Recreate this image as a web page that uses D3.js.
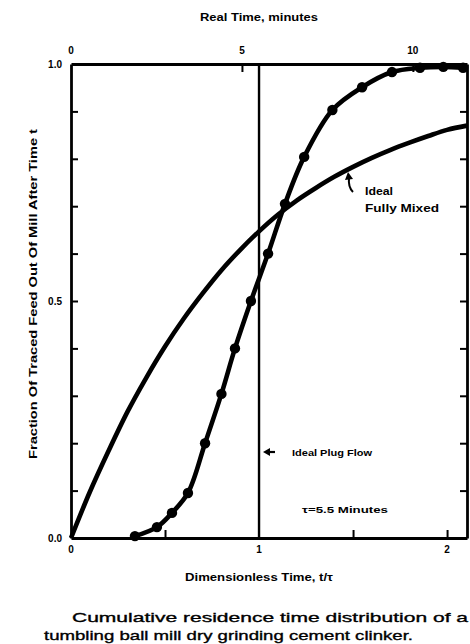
<!DOCTYPE html>
<html><head><meta charset="utf-8">
<script src="https://cdn.jsdelivr.net/npm/d3@7"></script>
<style>
html,body{margin:0;padding:0;background:#fff;}
svg{display:block;}
text{font-family:"Liberation Sans",Arial,Helvetica,sans-serif;fill:#000;}
</style></head>
<body>
<svg id="chart" width="470" height="644"></svg>
<script>
// Measured cumulative RTD (dimensionless time t/tau, fraction out)
const measuredTheta = [0.34, 0.457, 0.537, 0.622, 0.713, 0.80, 0.872, 0.957, 1.048, 1.138, 1.24, 1.39, 1.548, 1.707, 1.856, 1.98, 2.085];
const measuredF     = [0.004, 0.023, 0.053, 0.095, 0.20, 0.304, 0.40, 0.50, 0.60, 0.705, 0.804, 0.903, 0.951, 0.983, 0.992, 0.994, 0.992];
// Ideal fully mixed curve
const mixedTheta = [0, 0.1, 0.2, 0.3, 0.4, 0.5, 0.6, 0.7, 0.8, 0.9, 1.0, 1.1, 1.2, 1.3, 1.4, 1.5, 1.6, 1.7, 1.8, 1.9, 2.0, 2.106];
const mixedF     = [0, 0.097, 0.184, 0.266, 0.338, 0.404, 0.463, 0.516, 0.565, 0.608, 0.647, 0.682, 0.712, 0.738, 0.762, 0.783, 0.802, 0.819, 0.834, 0.848, 0.861, 0.870];
// Ideal plug flow position
const plugTheta = 1;
// Tick labels
const bottomTicks = [0, 1, 2];
const bottomMinorTicks = [0.5, 1.5, 2];
const topTicks = [0, 5, 10];
const leftLabelTicks = [0, 0.5, 1.0];
const yMinorTicks = [0.1, 0.2, 0.3, 0.4, 0.5, 0.6, 0.7, 0.8, 0.9];
const tauMinutes = 5.5;
const xMax = 2.106;

const svg = d3.select("#chart");
const L = 71, R = 467, T = 64, B = 538;
const x = d3.scaleLinear().domain([0, xMax]).range([L, R]);
const xTop = d3.scaleLinear().domain([0, xMax * tauMinutes]).range([L, R]);
const y = d3.scaleLinear().domain([0, 1]).range([B, T]);

// Axes with inward ticks
const gB = svg.append("g").attr("transform", `translate(0,${B})`)
  .call(d3.axisBottom(x).tickValues(bottomMinorTicks).tickSizeInner(-8).tickSizeOuter(0).tickFormat(""));
const gT = svg.append("g").attr("transform", `translate(0,${T})`)
  .call(d3.axisTop(xTop).tickValues([5, 10]).tickSizeInner(-8).tickSizeOuter(0).tickFormat(""));
const gL = svg.append("g").attr("transform", `translate(${L},0)`)
  .call(d3.axisLeft(y).tickValues(yMinorTicks).tickSizeInner(-7).tickSizeOuter(0).tickFormat(""));
const gR = svg.append("g").attr("transform", `translate(${R},0)`)
  .call(d3.axisRight(y).tickValues(yMinorTicks).tickSizeInner(-7).tickSizeOuter(0).tickFormat(""));
[gB, gT, gL, gR].forEach(g => {
  g.select(".domain").attr("stroke", "#000").attr("stroke-width", 2.8);
  g.selectAll(".tick line").attr("stroke", "#000").attr("stroke-width", 2);
});

// Tick labels
svg.append("g").selectAll("text").data(bottomTicks).join("text")
  .attr("x", d => x(d)).attr("y", 553).attr("text-anchor", "middle")
  .attr("font-size", 10).attr("font-weight", "bold").text(d => d);
svg.append("g").selectAll("text").data(topTicks).join("text")
  .attr("x", d => xTop(d)).attr("y", 54).attr("text-anchor", "middle")
  .attr("font-size", 10).attr("font-weight", "bold").text(d => d);
svg.append("g").selectAll("text").data(leftLabelTicks).join("text")
  .attr("x", 62).attr("y", d => y(d) + 4).attr("text-anchor", "end")
  .attr("font-size", 10).attr("font-weight", "bold").text(d => d3.format(".1f")(d));

// Plug flow vertical line
svg.append("line").attr("x1", x(plugTheta)).attr("x2", x(plugTheta))
  .attr("y1", T).attr("y2", B).attr("stroke", "#000").attr("stroke-width", 2.4);

// Ideal fully mixed curve
const mixedPts = mixedTheta.map((t, i) => [t, mixedF[i]]);
svg.append("path").datum(mixedPts)
  .attr("d", d3.line().x(d => x(d[0])).y(d => y(d[1])).curve(d3.curveMonotoneX))
  .attr("fill", "none").attr("stroke", "#000").attr("stroke-width", 4.6);

// Measured curve + points
const measPts = measuredTheta.map((t, i) => [t, measuredF[i]]);
svg.append("path").datum(measPts)
  .attr("d", d3.line().x(d => x(d[0])).y(d => y(d[1])).curve(d3.curveCatmullRom.alpha(0.5)))
  .attr("fill", "none").attr("stroke", "#000").attr("stroke-width", 4.6);
svg.append("g").selectAll("circle").data(measPts).join("circle")
  .attr("cx", d => x(d[0])).attr("cy", d => y(d[1])).attr("r", 5.2).attr("fill", "#000");

// Axis titles
svg.append("text").attr("x", 259).attr("y", 21).attr("text-anchor", "middle")
  .attr("font-size", 10).attr("font-weight", "bold").attr("textLength", 118).attr("lengthAdjust", "spacingAndGlyphs")
  .text("Real Time, minutes");
svg.append("text").attr("x", 259).attr("y", 581).attr("text-anchor", "middle")
  .attr("font-size", 10).attr("font-weight", "bold").attr("textLength", 148).attr("lengthAdjust", "spacingAndGlyphs")
  .text("Dimensionless Time, t/τ");
svg.append("text").attr("transform", "translate(37,294) rotate(-90)").attr("text-anchor", "middle")
  .attr("font-size", 10).attr("font-weight", "bold").attr("textLength", 330).attr("lengthAdjust", "spacingAndGlyphs")
  .text("Fraction Of Traced Feed Out Of Mill After Time t");

// Annotations
svg.append("path").attr("d", "M353,192 Q348,187 349,178").attr("fill", "none").attr("stroke", "#000").attr("stroke-width", 2);
svg.append("path").attr("d", "M345,180 L348,172 L353,179 Z").attr("fill", "#000");
svg.append("text").attr("x", 365).attr("y", 195).attr("font-size", 10).attr("font-weight", "bold")
  .attr("textLength", 28).attr("lengthAdjust", "spacingAndGlyphs").text("Ideal");
svg.append("text").attr("x", 365).attr("y", 212).attr("font-size", 10).attr("font-weight", "bold")
  .attr("textLength", 74).attr("lengthAdjust", "spacingAndGlyphs").text("Fully Mixed");

svg.append("line").attr("x1", 268).attr("x2", 275).attr("y1", 452).attr("y2", 452).attr("stroke", "#000").attr("stroke-width", 2.2);
svg.append("path").attr("d", "M263,452 L270,448 L270,456 Z").attr("fill", "#000");
svg.append("text").attr("x", 292).attr("y", 456).attr("font-size", 9.5).attr("font-weight", "bold")
  .attr("textLength", 80).attr("lengthAdjust", "spacingAndGlyphs").text("Ideal Plug Flow");
svg.append("text").attr("x", 302).attr("y", 513).attr("font-size", 9.5).attr("font-weight", "bold")
  .attr("textLength", 86).attr("lengthAdjust", "spacingAndGlyphs").text("τ=5.5 Minutes");

// Caption
svg.append("text").attr("x", 72).attr("y", 622).attr("font-size", 13.5).attr("stroke", "#000").attr("stroke-width", 0.35)
  .attr("textLength", 396).attr("lengthAdjust", "spacingAndGlyphs").text("Cumulative residence time distribution of a");
svg.append("text").attr("x", 44).attr("y", 640).attr("font-size", 13.5).attr("stroke", "#000").attr("stroke-width", 0.35)
  .attr("textLength", 369).attr("lengthAdjust", "spacingAndGlyphs").text("tumbling ball mill dry grinding cement clinker.");
</script>
</body></html>
